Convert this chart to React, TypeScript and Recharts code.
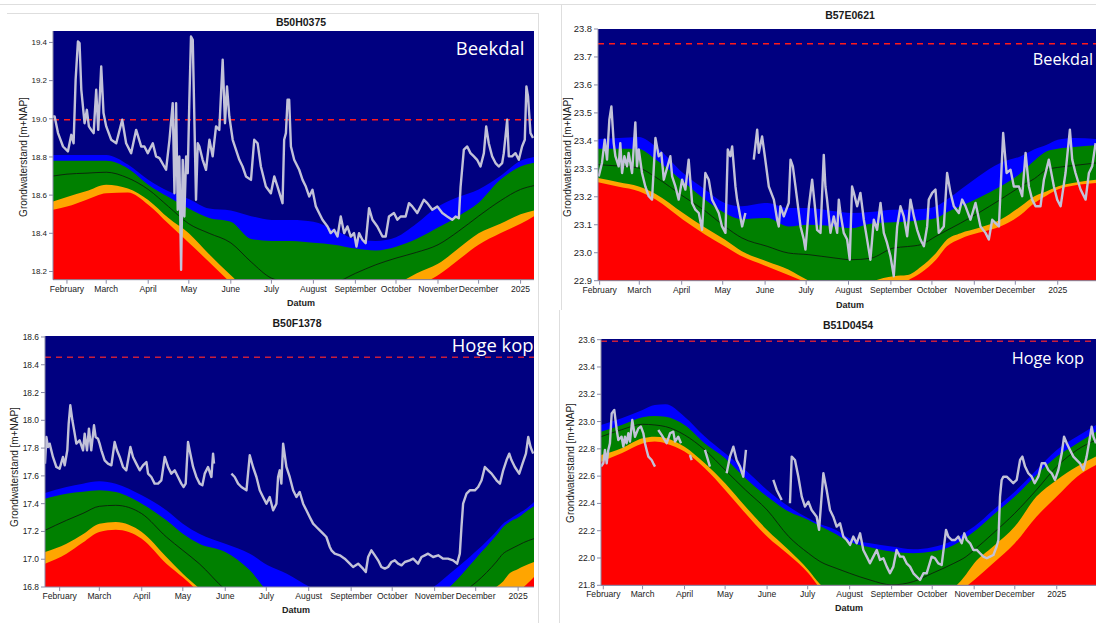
import {
  ComposedChart,
  Area,
  Line,
  XAxis,
  YAxis,
  CartesianGrid,
  ReferenceLine,
} from "recharts";

// x = days since 1 February 2024
const MONTH_TICKS = [0, 29, 60, 90, 121, 151, 182, 213, 243, 274, 304, 335];
const MONTH_LABELS = [
  "February", "March", "April", "May", "June", "July",
  "August", "September", "October", "November", "December", "2025",
];

// ---- B50H0375 (Beekdal) ----
const p1BandDays = [-10.3, 0, 14, 29, 45, 60, 75, 90, 105, 121, 136, 151, 166, 182, 197, 213, 228, 243, 258, 274, 289, 304, 320, 335, 345];
const p1Blue = [18.81, 18.81, 18.81, 18.81, 18.76, 18.68, 18.62, 18.58, 18.53, 18.52, 18.49, 18.47, 18.47, 18.46, 18.42, 18.37, 18.36, 18.38, 18.45, 18.54, 18.59, 18.63, 18.7, 18.78, 18.8];
const p1Green = [18.78, 18.78, 18.78, 18.78, 18.74, 18.655, 18.59, 18.53, 18.48, 18.46, 18.37, 18.36, 18.36, 18.35, 18.34, 18.32, 18.31, 18.33, 18.37, 18.43, 18.49, 18.56, 18.68, 18.75, 18.77];
const p1Median = [18.7, 18.71, 18.715, 18.72, 18.69, 18.63, 18.54, 18.45, 18.4, 18.35, 18.25, 18.165, 18.14, 18.13, 18.14, 18.19, 18.235, 18.27, 18.3, 18.34, 18.41, 18.49, 18.57, 18.63, 18.65];
const p1Orange = [18.567, 18.59, 18.62, 18.655, 18.635, 18.575, 18.48, 18.4, 18.29, 18.18, 18.08, 18.0, 17.95, 17.95, 17.98, 18.02, 18.07, 18.13, 18.19, 18.24, 18.32, 18.4, 18.45, 18.5, 18.52];
const p1Red = [18.523, 18.54, 18.575, 18.61, 18.614, 18.55, 18.45, 18.35, 18.25, 18.14, 18.04, 17.95, 17.9, 17.88, 17.9, 17.95, 18.0, 18.06, 18.12, 18.18, 18.26, 18.34, 18.4, 18.45, 18.49];
const p1LevelDays = [-10.3, -9.1, -6.6, -2.9, 0.7, 3.2, 4.9, 6.4, 8.1, 9.3, 10.6, 13, 14.7, 16.2, 17.9, 19.7, 21.6, 23.1, 25.3, 27, 29, 32.7, 36.4, 40.8, 43.7, 47.4, 51.1, 54.8, 57.2, 59.7, 63.4, 65.8, 68.3, 73.2, 75.7, 78.1, 79.4, 80.6, 81.8, 83, 84.3, 85.5, 86.7, 88, 89.2, 90.4, 91.6, 92.9, 94.1, 95.3, 96.6, 97.8, 100.2, 102.7, 105.2, 107.6, 110.1, 112.5, 113.8, 115, 116.7, 118.2, 119.9, 122.4, 127.3, 129.7, 132.2, 135.9, 138.3, 140.8, 143.2, 146.9, 150.6, 153.1, 155.5, 159.2, 160.4, 161.7, 162.9, 164.1, 165.4, 167.8, 171.5, 174, 176.4, 178.9, 181.3, 183.8, 186.2, 188.7, 192.4, 194.8, 197.3, 199.8, 202.2, 204.7, 207.1, 209.6, 212, 213.8, 215.7, 218.2, 220.6, 223.1, 225.6, 229.2, 233, 235.4, 237.8, 241.5, 244, 246.4, 250.1, 252.6, 255, 258.7, 261.2, 263.6, 266.1, 269.8, 273.5, 277.2, 280.8, 284.5, 287, 289.4, 290.7, 293.1, 295.6, 298, 300.5, 302.9, 305.4, 307.9, 309.6, 311.5, 314, 316.5, 318.9, 321.4, 322.6, 325.1, 326.3, 328.7, 331.2, 333.7, 336.1, 338.1, 339.3, 340.5, 342.3, 344.2];
const p1Level = [19.012, 19.012, 18.925, 18.855, 18.829, 18.916, 18.872, 19.204, 19.405, 19.397, 19.152, 18.977, 19.047, 18.96, 18.942, 18.925, 19.152, 18.942, 19.274, 19.03, 18.96, 18.89, 18.872, 18.995, 18.872, 18.82, 18.942, 18.855, 18.855, 18.82, 18.872, 18.803, 18.794, 18.733, 18.89, 19.082, 18.61, 19.082, 18.523, 18.803, 18.209, 18.785, 18.488, 18.803, 18.715, 19.1, 19.431, 19.414, 18.995, 18.576, 18.872, 18.855, 18.785, 18.733, 18.89, 18.803, 18.96, 18.942, 19.134, 19.309, 18.977, 19.169, 19.012, 18.89, 18.785, 18.75, 18.698, 18.68, 18.89, 18.872, 18.75, 18.645, 18.61, 18.698, 18.645, 18.558, 18.89, 18.925, 19.1, 19.1, 18.855, 18.785, 18.733, 18.68, 18.645, 18.593, 18.628, 18.541, 18.506, 18.471, 18.436, 18.401, 18.418, 18.383, 18.488, 18.401, 18.436, 18.383, 18.401, 18.331, 18.401, 18.366, 18.348, 18.532, 18.471, 18.436, 18.383, 18.383, 18.488, 18.506, 18.471, 18.488, 18.488, 18.558, 18.541, 18.506, 18.541, 18.576, 18.558, 18.523, 18.541, 18.506, 18.488, 18.471, 18.488, 18.479, 18.645, 18.838, 18.855, 18.82, 18.803, 18.785, 18.75, 18.82, 18.96, 18.872, 18.803, 18.768, 18.75, 18.768, 18.82, 18.995, 18.803, 18.803, 18.82, 18.785, 18.855, 18.89, 19.169, 19.117, 18.925, 18.899];
const p1Ticks = [18.2, 18.4, 18.6, 18.8, 19.0, 19.2, 19.4];

// ---- B57E0621 (Beekdal) ----
const p2BandDays = [-1.2, 14, 28.6, 41, 61, 77, 91.5, 104, 122.5, 138, 153, 172, 184, 198, 215, 225, 235, 246, 254, 264, 277, 293, 308, 318, 327, 335, 347, 363.2];
const p2Blue = [23.407, 23.41, 23.414, 23.38, 23.285, 23.226, 23.178, 23.166, 23.178, 23.16, 23.16, 23.148, 23.142, 23.146, 23.154, 23.154, 23.156, 23.166, 23.19, 23.226, 23.273, 23.321, 23.345, 23.37, 23.386, 23.404, 23.41, 23.407];
const p2Green = [23.372, 23.372, 23.371, 23.333, 23.255, 23.19, 23.142, 23.12, 23.124, 23.094, 23.1, 23.094, 23.088, 23.104, 23.109, 23.112, 23.116, 23.124, 23.145, 23.166, 23.196, 23.237, 23.285, 23.33, 23.363, 23.372, 23.378, 23.384];
const p2Median = [23.315, 23.31, 23.303, 23.27, 23.202, 23.15, 23.094, 23.053, 23.023, 22.999, 22.993, 22.981, 22.975, 22.98, 23.017, 23.022, 23.029, 23.059, 23.08, 23.106, 23.142, 23.19, 23.237, 23.265, 23.297, 23.305, 23.312, 23.321];
const p2Orange = [23.267, 23.252, 23.237, 23.21, 23.142, 23.09, 23.047, 23.005, 22.969, 22.94, 22.9, 22.87, 22.86, 22.895, 22.916, 22.92, 22.95, 22.999, 23.047, 23.07, 23.088, 23.118, 23.166, 23.202, 23.22, 23.237, 23.25, 23.261];
const p2Red = [23.252, 23.236, 23.22, 23.19, 23.118, 23.065, 23.023, 22.987, 22.951, 22.92, 22.89, 22.85, 22.84, 22.85, 22.88, 22.9, 22.928, 22.975, 23.023, 23.05, 23.071, 23.094, 23.136, 23.178, 23.205, 23.226, 23.24, 23.249];
const p2LevelDays = [-0.7, 1.7, 3.7, 5.4, 7.1, 8.6, 10.3, 11.5, 13.9, 15.1, 16.4, 18.1, 20, 21.2, 23.7, 26.1, 27.3, 28.6, 31, 33.4, 35.9, 38.3, 40.8, 43.2, 45.1, 46.9, 51.7, 53, 55.4, 57.8, 60.3, 62.7, 65.1, 67.6, 70, 72.5, 74.9, 77.3, 79.8, 82.2, 84.7, 87.1, 89.5, 92, 93.7, 95.6, 96.9, 99.3, 100.5, 104.2, 106.6, 109.5, 112.7, 115.2, 116.4, 118.8, 120.8, 123.7, 127.4, 129.8, 131, 132.2, 134.7, 138.3, 139.6, 141.3, 143.2, 146.9, 149.3, 150.5, 151.7, 153, 155.4, 157.4, 159, 161.5, 163.9, 165.1, 166.3, 168.8, 171.2, 173.7, 174.9, 176.1, 178.5, 181, 182.9, 184.6, 185.9, 188.3, 190.7, 193.2, 195.6, 198, 200.5, 202.9, 205.4, 207.8, 210.2, 212.7, 215.1, 217.6, 220, 222.4, 224.9, 227.3, 229.8, 232.2, 234.6, 237.1, 239.5, 240.7, 243.2, 245.6, 248, 251.7, 254.1, 256.6, 259, 262.7, 265.1, 267.6, 271.2, 274.9, 278.5, 282.2, 284.6, 287.1, 289.5, 292, 295.1, 297.6, 300.5, 302.9, 306.6, 309, 311.5, 313.9, 316.3, 318.8, 322.4, 324.9, 328.5, 332.2, 334.6, 337.1, 340.7, 343.9, 345.6, 348, 351.7, 355.4, 357.8, 360.2, 362.7];
const p2Level = [23.273, 23.321, 23.404, 23.333, 23.476, 23.523, 23.392, 23.345, 23.309, 23.392, 23.285, 23.345, 23.309, 23.357, 23.285, 23.466, 23.309, 23.369, 23.285, 23.237, 23.202, 23.19, 23.41, 23.345, 23.357, 23.261, 23.345, 23.273, 23.237, 23.19, 23.261, 23.226, 23.333, 23.178, 23.154, 23.142, 23.082, 23.285, 23.261, 23.19, 23.166, 23.142, 23.094, 23.071, 23.369, 23.345, 23.38, 23.237, 23.19, 23.094, 23.142, null, 23.333, 23.44, 23.357, 23.416, 23.345, 23.237, 23.19, 23.118, 23.094, 23.166, 23.13, 23.178, 23.333, 23.309, 23.237, 23.094, 23.047, 23.011, 23.082, 23.166, 23.261, 23.166, 23.082, 23.071, 23.35, 23.237, 23.19, 23.071, 23.13, 23.071, 23.19, 23.142, 23.071, 23.047, 22.975, 23.237, 23.214, 23.166, 23.214, 23.118, 23.047, 22.975, 23.118, 23.082, 23.178, 23.071, 23.035, 22.987, 22.916, 23.094, 23.166, 23.13, 23.059, 23.19, 23.13, 23.082, 23.047, 23.023, 23.094, 23.19, 23.214, 23.226, 23.071, 23.094, 23.285, 23.214, 23.166, 23.142, 23.19, 23.166, 23.118, 23.178, 23.094, 23.071, 23.047, 23.118, 23.106, 23.094, 23.428, 23.285, 23.297, 23.237, 23.237, 23.202, 23.357, 23.237, 23.19, 23.166, 23.166, 23.261, 23.333, 23.237, 23.19, 23.166, 23.285, 23.44, 23.333, 23.285, 23.226, 23.19, 23.285, 23.309, 23.392];
const p2Ticks = [22.9, 23.0, 23.1, 23.2, 23.3, 23.4, 23.5, 23.6, 23.7, 23.8];

// ---- B50F1378 (Hoge kop) ----
const p3BandDays = [-10.7, 5, 17, 29, 41, 60, 78, 90, 102, 121, 139, 152, 166, 183, 200, 230, 260, 273, 285, 300, 305, 319, 324, 329, 335, 339, 346.6];
const p3Blue = [17.477, 17.52, 17.544, 17.561, 17.544, 17.46, 17.352, 17.256, 17.184, 17.112, 17.04, 16.956, 16.896, 16.8, 16.74, 16.7, 16.74, 16.8, 16.896, 17.02, 17.064, 17.2, 17.256, 17.29, 17.328, 17.35, 17.412];
const p3Green = [17.436, 17.472, 17.485, 17.496, 17.484, 17.4, 17.28, 17.184, 17.112, 17.052, 16.92, 16.77, 16.7, 16.65, 16.62, 16.6, 16.65, 16.72, 16.8, 16.96, 17.016, 17.17, 17.232, 17.27, 17.3, 17.33, 17.381];
const p3Median = [17.208, 17.28, 17.33, 17.381, 17.388, 17.328, 17.16, 17.064, 16.968, 16.78, 16.65, 16.55, 16.5, 16.46, 16.45, 16.42, 16.5, 16.6, 16.7, 16.8, 16.84, 16.98, 17.04, 17.07, 17.1, 17.12, 17.148];
const p3Orange = [17.052, 17.112, 17.18, 17.256, 17.268, 17.196, 17.016, 16.896, 16.79, 16.6, 16.45, 16.4, 16.35, 16.3, 16.3, 16.3, 16.35, 16.42, 16.5, 16.6, 16.65, 16.8, 16.84, 16.9, 16.93, 16.95, 16.98];
const p3Red = [16.968, 17.04, 17.12, 17.196, 17.213, 17.148, 16.968, 16.87, 16.76, 16.55, 16.4, 16.3, 16.25, 16.2, 16.2, 16.2, 16.25, 16.3, 16.4, 16.5, 16.55, 16.66, 16.7, 16.74, 16.77, 16.8, 16.872];
const p3LevelDays = [-10.7, -9.7, -8.5, -7.3, -4.9, -2.4, 0, 2.4, 3.7, 5.6, 6.6, 7.8, 9.3, 11, 12.2, 14.6, 17.1, 18.3, 20, 21.4, 23.1, 25.1, 26.3, 28, 29.2, 30.5, 32.9, 35.3, 37.8, 40.2, 41.9, 43.9, 46.3, 48.7, 51.7, 53.6, 56, 58.5, 60.9, 63.4, 64.6, 67, 69.4, 71.9, 74.3, 76.8, 79.2, 81.6, 84.1, 86.5, 88.9, 90.6, 92.1, 93.8, 95.5, 97.5, 99.9, 102.3, 104.3, 106, 108.4, 110.9, 112.1, 112.8, 118, 125.5, 127.9, 130.4, 132.8, 136.5, 138.9, 141.3, 143.8, 146.2, 148.6, 151.1, 153.5, 156, 158.4, 159.6, 160.8, 162, 163.3, 165.7, 168.1, 170.6, 173, 175.4, 177.9, 180.3, 182.7, 185.2, 187.6, 190.1, 192.5, 194.9, 197.4, 198.6, 201, 204.7, 208.3, 212, 214.4, 218.1, 221.7, 223.7, 225.4, 227.8, 230.3, 232.7, 235.1, 237.6, 240, 242.4, 244.9, 247.3, 249.8, 252.2, 255.8, 258.3, 261.9, 264.4, 266.8, 269.2, 272.9, 276.6, 280.2, 283.7, 287.5, 290.4, 292.4, 293.6, 294.8, 297.3, 299.7, 303.4, 305.8, 308.3, 310.7, 313.1, 315.6, 319.2, 321.7, 324.1, 326.5, 328.5, 330.2, 332.6, 335.8, 338.2, 340.7, 342.4, 344.1, 346];
const p3Level = [17.688, 17.88, 17.808, 17.832, 17.736, 17.664, 17.652, 17.736, 17.676, 17.784, 17.976, 18.108, 18.0, 17.904, 17.832, 17.856, 17.784, 17.904, 17.784, 17.94, 17.784, 17.964, 17.88, 17.868, 17.832, 17.784, 17.712, 17.688, 17.676, 17.844, 17.784, 17.736, 17.664, 17.64, 17.808, 17.736, 17.688, 17.64, 17.676, 17.7, 17.616, 17.592, 17.544, 17.544, 17.568, 17.736, 17.664, 17.616, 17.64, 17.592, 17.544, 17.52, 17.544, 17.844, 17.76, 17.664, 17.592, 17.544, 17.532, 17.616, 17.664, 17.592, 17.76, 17.688, null, 17.616, 17.592, 17.544, 17.52, 17.496, 17.748, 17.664, 17.592, 17.496, 17.448, 17.4, 17.448, 17.352, 17.4, 17.592, 17.64, 17.544, 17.832, 17.664, 17.592, 17.496, 17.448, 17.484, 17.4, 17.352, 17.304, 17.256, 17.232, 17.208, 17.184, 17.16, 17.088, 17.064, 17.04, 17.028, 17.004, 16.968, 16.944, 16.968, 16.932, 16.908, 17.016, 17.064, 17.028, 16.992, 16.944, 16.932, 16.944, 16.98, 16.992, 16.968, 16.956, 16.98, 16.992, 17.004, 16.968, 17.016, 17.028, 17.04, 17.016, 17.028, 17.004, 17.004, 16.992, 16.968, 17.04, 17.232, 17.4, 17.472, 17.496, 17.496, 17.52, 17.568, 17.664, 17.64, 17.616, 17.568, 17.544, 17.64, 17.712, 17.76, 17.712, 17.664, 17.616, 17.688, 17.76, 17.88, 17.808, 17.76];
const p3Ticks = [16.8, 17.0, 17.2, 17.4, 17.6, 17.8, 18.0, 18.2, 18.4, 18.6];

// ---- B51D0454 (Hoge kop) ----
const p4BandDays = [-1.7, 13.5, 29, 38, 46, 60, 75, 90, 105, 121, 137, 151.5, 160, 172, 182, 197, 213, 229, 243, 259, 268, 274, 288, 304, 320, 335, 350, 364];
const p4Blue = [22.975, 23.024, 23.085, 23.121, 23.126, 23.036, 22.89, 22.767, 22.645, 22.499, 22.377, 22.291, 22.25, 22.206, 22.145, 22.108, 22.084, 22.064, 22.079, 22.132, 22.19, 22.23, 22.352, 22.486, 22.645, 22.792, 22.89, 22.975];
const p4Green = [22.926, 22.975, 23.031, 23.041, 23.036, 22.975, 22.84, 22.731, 22.584, 22.45, 22.34, 22.279, 22.235, 22.175, 22.12, 22.079, 22.047, 22.035, 22.047, 22.096, 22.15, 22.194, 22.316, 22.45, 22.609, 22.743, 22.84, 22.926];
const p4Median = [22.889, 22.94, 22.98, 22.975, 22.963, 22.902, 22.792, 22.645, 22.499, 22.352, 22.157, 22.035, 21.975, 21.925, 21.888, 21.839, 21.803, 21.827, 21.888, 21.961, 22.01, 22.059, 22.181, 22.328, 22.499, 22.67, 22.792, 22.865];
const p4Orange = [22.755, 22.804, 22.877, 22.889, 22.88, 22.816, 22.694, 22.548, 22.377, 22.206, 22.059, 21.913, 21.81, 21.72, 21.65, 21.6, 21.6, 21.62, 21.68, 21.78, 21.88, 21.961, 22.084, 22.23, 22.45, 22.572, 22.67, 22.743];
const p4Red = [22.706, 22.767, 22.84, 22.853, 22.84, 22.78, 22.657, 22.499, 22.328, 22.157, 22.023, 21.888, 21.78, 21.68, 21.6, 21.55, 21.55, 21.57, 21.62, 21.7, 21.79, 21.839, 21.961, 22.108, 22.303, 22.45, 22.596, 22.682];
const p4LevelDays = [-1.7, 0, 1.2, 2.5, 3.7, 4.9, 6.2, 8.1, 9.9, 11.1, 13.5, 14.8, 16, 17.2, 18.5, 19.7, 21.4, 23.4, 25.9, 27.8, 29.6, 30.8, 32, 33.3, 35.7, 36.9, 38.2, 39.4, 40.6, 43.1, 46.8, 49.3, 51.7, 53, 55.4, 57.4, 60, 64, 65.3, 70, 75.1, 78.8, 85, 91.1, 93.6, 96.1, 98.5, 101, 103.4, 105.4, 115, 125.6, 128.1, 131.8, 134, 137.9, 139.2, 141.6, 144.1, 146.6, 149, 151.5, 153.9, 157.6, 159.4, 162.6, 165, 167.5, 169.9, 172.4, 174.9, 177.3, 179.8, 182.3, 184.7, 187.2, 189.7, 192.1, 194.6, 197, 199.5, 202, 204.4, 206.9, 209.4, 211.8, 214.3, 216.7, 219.2, 221.7, 224.1, 226.6, 229.1, 231.5, 234, 236.5, 238.9, 242.6, 245.1, 247.5, 250, 253.2, 254.9, 257.4, 259.9, 262.3, 264.8, 266.7, 268.5, 271, 273.4, 275.9, 278.3, 280.8, 283.3, 285.7, 288.2, 290.6, 291.9, 293.1, 294.3, 295.6, 298, 300.5, 302.9, 305.4, 307.9, 309.6, 311.6, 314, 316.5, 318.7, 321.4, 323.9, 326.4, 328.8, 331.3, 333.7, 336.2, 338.7, 340.4, 342.4, 344.8, 347.3, 349.8, 352.2, 354.7, 357.1, 359.6, 360.8, 362.1, 364];
const p4Level = [22.67, 22.694, 22.792, 22.694, 22.792, 22.841, 23.06, 23.085, 22.938, 22.865, 22.889, 22.816, 22.889, 22.841, 22.914, 22.853, 23.011, 22.889, 22.95, 22.963, 22.914, 22.841, 22.792, 22.743, 22.718, 22.694, 22.67, null, 22.938, 22.902, 22.841, 22.914, 22.926, 22.853, 22.889, 22.841, null, 22.755, 22.718, null, 22.792, 22.67, null, 22.621, 22.743, 22.816, 22.718, 22.67, 22.596, 22.792, null, 22.572, 22.499, 22.425, null, 22.401, 22.743, 22.718, 22.596, 22.45, 22.377, 22.413, 22.352, 22.303, 22.206, 22.621, 22.499, 22.352, 22.303, 22.23, 22.254, 22.157, 22.132, 22.096, 22.157, 22.108, 22.181, 22.059, 22.01, 21.961, 22.01, 22.059, 21.986, 21.998, 21.937, 21.888, 21.937, 22.059, 22.01, 22.01, 21.961, 21.937, 21.888, 21.864, 21.839, 21.888, 21.888, 22.01, 21.998, 21.961, 21.949, 22.206, 22.157, 22.132, 22.132, 22.157, 22.108, 22.181, 22.132, 22.108, 22.059, 22.059, 22.035, 22.01, 21.998, 22.01, 22.022, 22.084, 22.132, 22.45, 22.572, 22.596, 22.596, 22.572, 22.548, 22.572, 22.718, 22.743, 22.67, 22.621, 22.596, 22.548, 22.596, 22.694, 22.694, 22.645, 22.621, 22.572, 22.645, 22.767, 22.889, 22.841, 22.792, 22.743, 22.718, 22.694, 22.645, 22.743, 22.889, 22.963, 22.889, 22.841];
const p4Ticks = [21.8, 22.0, 22.2, 22.4, 22.6, 22.8, 23.0, 23.2, 23.4, 23.6];

const NAVY = "#000080";
const BLUE = "#0000ff";
const GREEN = "#008000";
const ORANGE = "#ffa500";
const RED = "#ff0000";
const LEVEL = "#c2c2d8";
const FONT = '"Liberation Sans", Arial, sans-serif';

type BandRow = { d: number; blue: number; green: number; median: number; orange: number; red: number };
type LevelRow = { d: number; v: number | null };

const makeBands = (days: number[], blue: number[], green: number[], median: number[], orange: number[], red: number[]): BandRow[] =>
  days.map((d, i) => ({ d, blue: blue[i], green: green[i], median: median[i], orange: orange[i], red: red[i] }));

const makeLevel = (days: number[], values: (number | null)[]): LevelRow[] =>
  days.map((d, i) => ({ d, v: values[i] }));

type PanelProps = {
  x: number;
  y: number;
  w: number;
  h: number;
  xDomain: [number, number];
  yDomain: [number, number];
  yTicks: number[];
  yFont: number;
  bands: BandRow[];
  level: LevelRow[];
  refLevel: number;
  refColor: string;
};

const YW = 44;
const XH = 22;
const TOP = 6;
const RIGHT = 4;

const Panel = ({ x, y, w, h, xDomain, yDomain, yTicks, yFont, bands, level, refLevel, refColor }: PanelProps) => {
  return (
    <div style={{ position: "absolute", left: x - YW, top: y - TOP }}>
      <ComposedChart
        width={w + YW + RIGHT}
        height={h + TOP + XH}
        data={bands}
        margin={{ top: TOP, right: RIGHT, bottom: 0, left: 0 }}
      >
        <CartesianGrid horizontal={false} vertical={false} fill={NAVY} fillOpacity={1} />
        <XAxis
          type="number"
          dataKey="d"
          domain={xDomain}
          allowDataOverflow
          ticks={MONTH_TICKS}
          interval={0}
          height={XH}
          tickFormatter={(v: number) => MONTH_LABELS[MONTH_TICKS.indexOf(v)] ?? ""}
          tick={{ fontSize: 8.6, fill: "#222", fontFamily: FONT }}
          tickSize={4}
          tickMargin={2}
          stroke="#8a8aa6"
        />
        <YAxis
          type="number"
          domain={yDomain}
          allowDataOverflow
          ticks={yTicks}
          interval={0}
          width={YW}
          tickFormatter={(v: number) => v.toFixed(1)}
          tick={{ fontSize: yFont, fill: "#222", fontFamily: FONT }}
          tickSize={4}
          tickMargin={2}
          stroke="#8a8aa6"
        />
        <Area type="monotone" dataKey="blue" stroke="none" fill={BLUE} fillOpacity={1} baseValue={yDomain[0]} isAnimationActive={false} activeDot={false} />
        <Area type="monotone" dataKey="green" stroke="none" fill={GREEN} fillOpacity={1} baseValue={yDomain[0]} isAnimationActive={false} activeDot={false} />
        <Area type="monotone" dataKey="orange" stroke="none" fill={ORANGE} fillOpacity={1} baseValue={yDomain[0]} isAnimationActive={false} activeDot={false} />
        <Area type="monotone" dataKey="red" stroke="none" fill={RED} fillOpacity={1} baseValue={yDomain[0]} isAnimationActive={false} activeDot={false} />
        <Line type="monotone" dataKey="median" stroke="#0b2a0b" strokeWidth={1} dot={false} activeDot={false} isAnimationActive={false} />
        <ReferenceLine y={refLevel} stroke={refColor} strokeWidth={1.6} strokeDasharray="6 5" />
        <Line
          data={level}
          type="linear"
          dataKey="v"
          stroke={LEVEL}
          strokeWidth={2.4}
          strokeLinejoin="round"
          dot={false}
          activeDot={false}
          connectNulls={false}
          isAnimationActive={false}
        />
      </ComposedChart>
    </div>
  );
};

const Text = ({ x, y, children, style }: { x: number; y: number; children: React.ReactNode; style?: React.CSSProperties }) => (
  <div
    style={{
      position: "absolute",
      left: x,
      top: y,
      transform: "translate(-50%, -50%)",
      whiteSpace: "nowrap",
      ...style,
    }}
  >
    {children}
  </div>
);

// site names are anchored at their right edge
const Site = ({ right, y, size, children }: { right: number; y: number; size: number; children: React.ReactNode }) => (
  <div
    style={{
      position: "absolute",
      right: 1096 - right,
      top: y,
      transform: "translateY(-50%)",
      whiteSpace: "nowrap",
      fontFamily: '"Open Sans", sans-serif',
      fontSize: size,
      color: "#fff",
    }}
  >
    {children}
  </div>
);

const titleStyle: React.CSSProperties = { fontFamily: FONT, fontWeight: "bold", fontSize: 10.5, color: "#1a1a1a" };
const datumStyle: React.CSSProperties = { fontFamily: FONT, fontWeight: "bold", fontSize: 9, color: "#222" };
const yLabelStyle: React.CSSProperties = { fontFamily: FONT, fontSize: 10, color: "#222", transform: "translate(-50%, -50%) rotate(-90deg)" };

const Rule = ({ x, y, w, h }: { x: number; y: number; w: number; h: number }) => (
  <div style={{ position: "absolute", left: x, top: y, width: w, height: h, background: "#dedede" }} />
);

export default function App() {
  return (
    <div
      style={{
        position: "absolute",
        left: 0,
        top: 0,
        width: 1096,
        height: 623,
        background: "#fff",
        overflow: "hidden",
      }}
    >
      <Rule x={0} y={4} w={1096} h={1} />
      <Rule x={7} y={13} w={531} h={1} />
      <Rule x={538} y={13} w={1} h={610} />
      <Rule x={561} y={4} w={1} h={306} />
      <Rule x={559} y={310} w={1} h={313} />

      <Panel
        x={53.3} y={31.3} w={481} h={248.7}
        xDomain={[-10.3, 344.9]} yDomain={[18.157, 19.46]}
        yTicks={p1Ticks} yFont={8}
        bands={makeBands(p1BandDays, p1Blue, p1Green, p1Median, p1Orange, p1Red)}
        level={makeLevel(p1LevelDays, p1Level)}
        refLevel={18.995} refColor="#ff1a1a"
      />
      <Panel
        x={597.7} y={29.3} w={498.3} h={251.7}
        xDomain={[-1.2, 363.2]} yDomain={[22.9, 23.8]}
        yTicks={p2Ticks} yFont={9.4}
        bands={makeBands(p2BandDays, p2Blue, p2Green, p2Median, p2Orange, p2Red)}
        level={makeLevel(p2LevelDays, p2Level)}
        refLevel={23.747} refColor="#ff1a1a"
      />
      <Panel
        x={45.3} y={335.7} w={489} h={251}
        xDomain={[-10.7, 346.6]} yDomain={[16.8, 18.607]}
        yTicks={p3Ticks} yFont={8.4}
        bands={makeBands(p3BandDays, p3Blue, p3Green, p3Median, p3Orange, p3Red)}
        level={makeLevel(p3LevelDays, p3Level)}
        refLevel={18.454} refColor="#c81e3c"
      />
      <Panel
        x={601} y={339} w={495} h={246.3}
        xDomain={[-1.7, 364]} yDomain={[21.8, 23.605]}
        yTicks={p4Ticks} yFont={8.6}
        bands={makeBands(p4BandDays, p4Blue, p4Green, p4Median, p4Orange, p4Red)}
        level={makeLevel(p4LevelDays, p4Level)}
        refLevel={23.588} refColor="#c81e3c"
      />

      <Text x={301} y={22} style={titleStyle}>B50H0375</Text>
      <Text x={850} y={15.3} style={titleStyle}>B57E0621</Text>
      <Text x={297} y={323} style={titleStyle}>B50F1378</Text>
      <Text x={848} y={325.3} style={titleStyle}>B51D0454</Text>

      <Text x={301} y={302.5} style={datumStyle}>Datum</Text>
      <Text x={850} y={304.5} style={datumStyle}>Datum</Text>
      <Text x={296} y={609.7} style={datumStyle}>Datum</Text>
      <Text x={849} y={608} style={datumStyle}>Datum</Text>

      <Text x={22.7} y={156.7} style={yLabelStyle}>Grondwaterstand [m+NAP]</Text>
      <Text x={566.7} y={157} style={yLabelStyle}>Grondwaterstand [m+NAP]</Text>
      <Text x={14} y={466.7} style={yLabelStyle}>Grondwaterstand [m+NAP]</Text>
      <Text x={570} y={463} style={yLabelStyle}>Grondwaterstand [m+NAP]</Text>

      <Site right={524.5} y={47} size={18.5}>Beekdal</Site>
      <Site right={1093} y={59} size={16.2}>Beekdal</Site>
      <Site right={533.5} y={344} size={18.4}>Hoge kop</Site>
      <Site right={1084} y={358} size={16.3}>Hoge kop</Site>
    </div>
  );
}
